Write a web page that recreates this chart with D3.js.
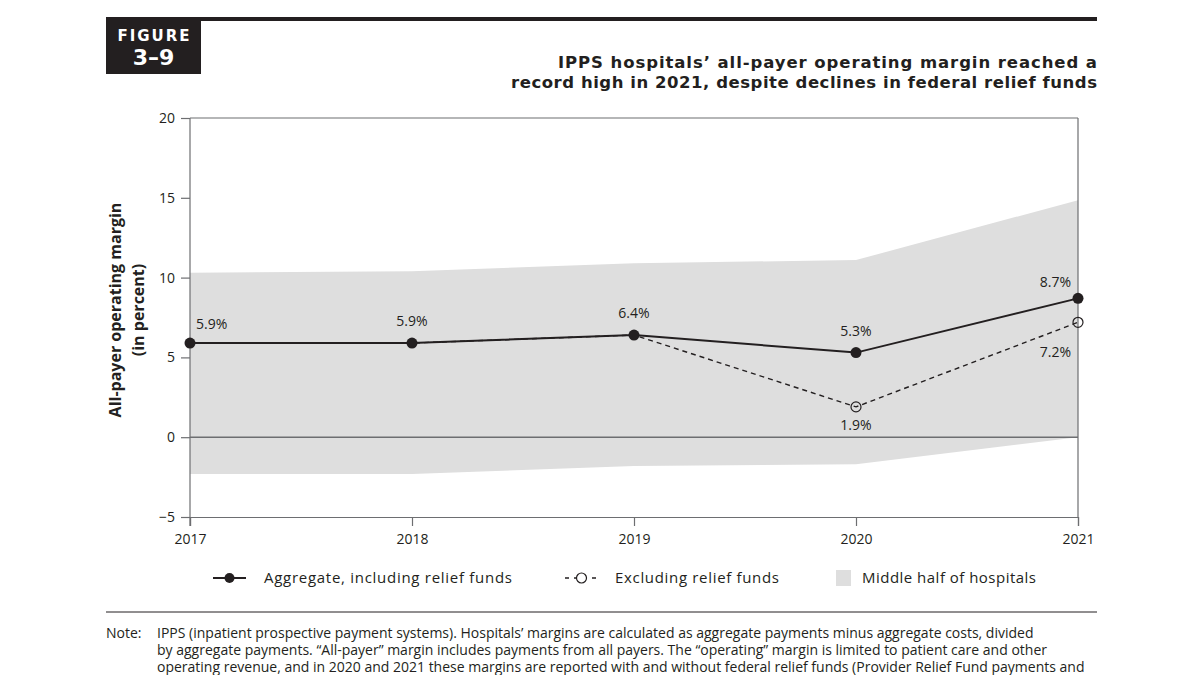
<!DOCTYPE html>
<html><head><meta charset="utf-8">
<script src="https://cdn.jsdelivr.net/npm/d3@7/dist/d3.min.js"></script>
<style>body{margin:0;background:#fff;} svg{display:block;}</style>
</head><body><svg id="c" width="1200" height="675"></svg>
<script>
const years = [2017, 2018, 2019, 2020, 2021];
const aggregate = [5.9, 5.9, 6.4, 5.3, 8.7];
const excluding = [5.9, 5.9, 6.4, 1.9, 7.2];
const bandUpper = [10.3, 10.4, 10.9, 11.1, 14.85];
const bandLower = [-2.3, -2.3, -1.8, -1.7, 0.0];
const yTicks = [-5, 0, 5, 10, 15, 20];
const excludedMarkerYears = [2020, 2021];

const svg = d3.select('#c');
const font = "'Open Sans', 'Noto Sans', sans-serif";
const ink = '#231f20';

// header
svg.append('rect').attr('x',106).attr('y',17).attr('width',991).attr('height',4).attr('fill',ink);
svg.append('rect').attr('x',106).attr('y',21).attr('width',95).attr('height',53).attr('fill',ink);
svg.append('text').attr('x',154.5).attr('y',41).attr('text-anchor','middle').attr('fill','#fff')
  .style('font-family',"'DejaVu Sans', sans-serif").style('font-weight','bold').style('font-size','15px').style('letter-spacing','2px').text('FIGURE');
svg.append('text').attr('x',153.5).attr('y',65).attr('text-anchor','middle').attr('fill','#fff')
  .style('font-family',"'DejaVu Sans', sans-serif").style('font-weight','bold').style('font-size','22px').text('3–9');
const title = ["IPPS hospitals’ all-payer operating margin reached a", "record high in 2021, despite declines in federal relief funds"];
const titleWidths = [539, 586];
title.forEach((t,i)=>svg.append('text').attr('x',1097).attr('y',68+i*20).attr('text-anchor','end').attr('fill',ink)
  .attr('textLength',titleWidths[i]).attr('lengthAdjust','spacing')
  .style('font-family',"'DejaVu Sans', sans-serif").style('font-weight','bold').style('font-size','16.5px').text(t));

const x = d3.scalePoint().domain(years).range([190, 1078]);
const y = d3.scaleLinear().domain([-5, 20]).range([517, 118]);

// band
const bandData = years.map((yr,i)=>({yr, lo: bandLower[i], hi: bandUpper[i]}));
svg.append('path').datum(bandData).attr('fill','#dedede')
  .attr('d', d3.area().x(d=>x(d.yr)).y0(d=>y(d.lo)).y1(d=>y(d.hi)));

// frame
const axisColor = '#6d6e71';
svg.append('line').attr('x1',190).attr('x2',1078).attr('y1',y(20)).attr('y2',y(20)).attr('stroke',axisColor).attr('stroke-width',1.2);
svg.append('line').attr('x1',1078).attr('x2',1078).attr('y1',y(20)).attr('y2',y(-5)).attr('stroke',axisColor).attr('stroke-width',1.2);
svg.append('line').attr('x1',190).attr('x2',1078).attr('y1',y(0)).attr('y2',y(0)).attr('stroke',axisColor).attr('stroke-width',1.5);

// y axis
const yAxis = svg.append('g').attr('transform','translate(190,0)')
  .call(d3.axisLeft(y).tickValues(yTicks).tickSize(9).tickPadding(6).tickFormat(d=> d<0 ? '−'+Math.abs(d) : d));
// x axis
const xAxis = svg.append('g').attr('transform',`translate(0,${y(-5)})`)
  .call(d3.axisBottom(x).tickSize(9).tickPadding(8).tickFormat(d3.format('d')));
[yAxis,xAxis].forEach(g=>{
  g.select('.domain').attr('stroke',axisColor).attr('stroke-width',1.2);
  g.selectAll('.tick line').attr('stroke',axisColor).attr('stroke-width',1.2);
  g.selectAll('.tick text').attr('fill',ink).style('font-family',font).style('font-size','14px');
});
yAxis.select('.domain').remove();
svg.append('line').attr('x1',190).attr('x2',190).attr('y1',y(20)).attr('y2',y(-5)+9).attr('stroke',axisColor).attr('stroke-width',1.2);

// y title
const yt = svg.append('text').attr('transform','translate(0,310) rotate(-90)').attr('text-anchor','middle').attr('fill',ink)
  .style('font-family',font).style('font-weight','bold').style('font-size','16px');
yt.append('tspan').attr('x',0).attr('y',121).text('All-payer operating margin');
yt.append('tspan').attr('x',0).attr('y',144).text('(in percent)');

// lines
const exData = years.map((yr,i)=>({yr, v: excluding[i]}));
const agData = years.map((yr,i)=>({yr, v: aggregate[i]}));
const line = d3.line().x(d=>x(d.yr)).y(d=>y(d.v));
svg.append('path').datum(exData).attr('d',line).attr('fill','none').attr('stroke',ink).attr('stroke-width',1.4).attr('stroke-dasharray','5,4');
svg.append('path').datum(agData).attr('d',line).attr('fill','none').attr('stroke',ink).attr('stroke-width',2);
svg.selectAll('.ag').data(agData).enter().append('circle').attr('cx',d=>x(d.yr)).attr('cy',d=>y(d.v)).attr('r',5.5).attr('fill',ink);
svg.selectAll('.ex').data(exData.filter(d=>excludedMarkerYears.includes(d.yr))).enter().append('circle')
  .attr('cx',d=>x(d.yr)).attr('cy',d=>y(d.v)).attr('r',5).attr('fill','none').attr('stroke',ink).attr('stroke-width',1.2);

// labels
const lbl = (tx,ty,t,anchor,size,len)=>{
  const el = svg.append('text').attr('x',tx).attr('y',ty).attr('text-anchor',anchor).attr('fill',ink)
    .style('font-family',font).style('font-size',(size||14)+'px').text(t);
  if(len) el.attr('textLength',len).attr('lengthAdjust','spacing');
  return el;
};
const fmt = v=>v.toFixed(1)+'%';
agData.forEach((d,i)=>{
  const px=x(d.yr), py=y(d.v);
  if(i===0) lbl(px+6, py-14, fmt(d.v), 'start');
  else if(i===years.length-1) lbl(px-7, py-11, fmt(d.v), 'end');
  else lbl(px, py-17, fmt(d.v), 'middle');
});
exData.forEach((d,i)=>{
  if(!excludedMarkerYears.includes(d.yr)) return;
  const px=x(d.yr), py=y(d.v);
  if(i===years.length-1) lbl(px-7, py+35, fmt(d.v), 'end');
  else lbl(px, py+23, fmt(d.v), 'middle');
});

// legend
const ly = 578;
svg.append('line').attr('x1',213).attr('x2',246).attr('y1',ly).attr('y2',ly).attr('stroke',ink).attr('stroke-width',2);
svg.append('circle').attr('cx',229.5).attr('cy',ly).attr('r',5).attr('fill',ink);
lbl(264, ly+5, 'Aggregate, including relief funds', 'start', 15, 248);
svg.append('line').attr('x1',565).attr('x2',598).attr('y1',ly).attr('y2',ly).attr('stroke',ink).attr('stroke-width',1.4).attr('stroke-dasharray','4,5');
svg.append('circle').attr('cx',581.5).attr('cy',ly).attr('r',5).attr('fill','#fff').attr('stroke',ink).attr('stroke-width',1.2);
lbl(615, ly+5, 'Excluding relief funds', 'start', 15, 164);
svg.append('rect').attr('x',836).attr('y',ly-8).attr('width',15).attr('height',16).attr('fill','#dedede');
lbl(862, ly+5, 'Middle half of hospitals', 'start', 15, 174);

// separator + note
svg.append('line').attr('x1',106).attr('x2',1097).attr('y1',612).attr('y2',612).attr('stroke',ink).attr('stroke-width',1);
const note = [
 'IPPS (inpatient prospective payment systems). Hospitals’ margins are calculated as aggregate payments minus aggregate costs, divided',
 'by aggregate payments. “All-payer” margin includes payments from all payers. The “operating” margin is limited to patient care and other',
 'operating revenue, and in 2020 and 2021 these margins are reported with and without federal relief funds (Provider Relief Fund payments and'
];
const nf = (tx,ty,t)=>svg.append('text').attr('x',tx).attr('y',ty).attr('fill',ink)
  .style('font-family',font).style('font-size','14px').text(t);
nf(106,638,'Note:');
note.forEach((t,i)=>nf(157,638+i*17,t));
</script></body></html>
